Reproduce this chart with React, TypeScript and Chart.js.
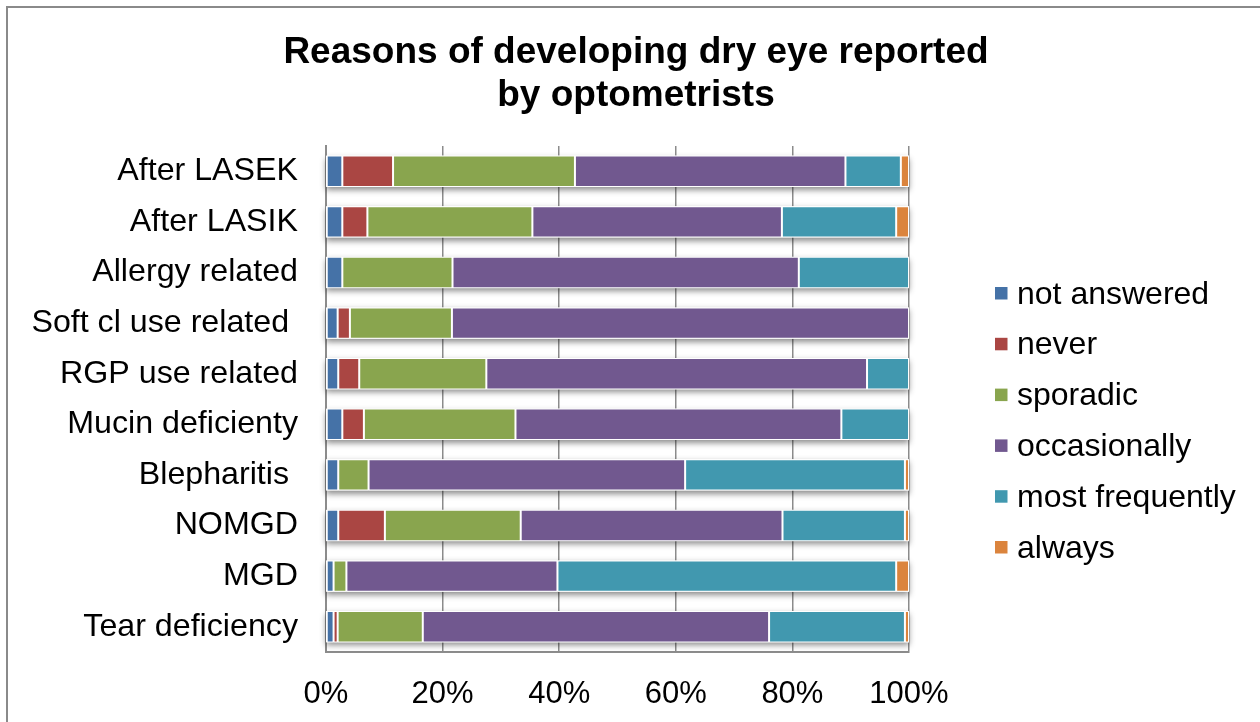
import React, { useEffect, useRef } from 'react';
import { Chart, registerables } from 'chart.js';

Chart.register(...registerables);

// Reasons, listed top to bottom
const categories = [
  'After LASEK',
  'After LASIK',
  'Allergy related',
  'Soft cl use related ',
  'RGP use related',
  'Mucin deficienty',
  'Blepharitis ',
  'NOMGD',
  'MGD',
  'Tear deficiency',
];

// Share of answers (%) per reason
const notAnswered = [2.8, 2.8, 2.8, 2.0, 2.1, 2.8, 2.1, 2.1, 1.3, 1.3];
const never = [8.7, 4.3, 0, 2.1, 3.6, 3.7, 0, 8.0, 0, 0.7];
const sporadic = [31.2, 28.3, 18.9, 17.5, 21.8, 26.0, 5.2, 23.3, 2.2, 14.6];
const occasionally = [46.4, 42.8, 59.4, 78.4, 65.3, 55.9, 54.3, 44.9, 36.2, 59.4];
const mostFrequently = [9.5, 19.6, 18.9, 0, 7.2, 11.6, 37.7, 21.0, 58.1, 23.3];
const always = [1.4, 2.2, 0, 0, 0, 0, 0.7, 0.7, 2.2, 0.7];

const seriesNames = ['not answered', 'never', 'sporadic', 'occasionally', 'most frequently', 'always'];
const seriesValues = [notAnswered, never, sporadic, occasionally, mostFrequently, always];
const seriesColors = ['#4572A7', '#AA4643', '#89A54E', '#71588F', '#4198AF', '#DB843D'];

const xTickLabels = ['0%', '20%', '40%', '60%', '80%', '100%'];
const titleLines = ['Reasons of developing dry eye reported', 'by optometrists'];

const FONT = "'Liberation Sans', Arial, Helvetica, sans-serif";

// Thin grey frame around the whole figure
const framePlugin = {
  id: 'frame',
  beforeDraw(chart: any) {
    const { ctx } = chart;
    ctx.save();
    ctx.strokeStyle = '#8a8a8a';
    ctx.lineWidth = 2;
    ctx.strokeRect(7, 7, chart.width + 20, chart.height + 20);
    ctx.restore();
  },
};

// Soft drop shadow under every stacked bar row
const barShadowPlugin = {
  id: 'barShadow',
  beforeDatasetsDraw(chart: any) {
    const { ctx } = chart;
    const xScale = chart.scales.x;
    const meta = chart.getDatasetMeta(0);
    ctx.save();
    meta.data.forEach((bar: any, i: number) => {
      const total = chart.data.datasets.reduce((s: number, d: any) => s + (d.data[i] || 0), 0);
      const left = xScale.getPixelForValue(0);
      const right = xScale.getPixelForValue(total);
      const h = bar.height;
      ctx.shadowColor = 'rgba(0,0,0,0.45)';
      ctx.shadowBlur = 6;
      ctx.shadowOffsetY = 3;
      ctx.fillStyle = '#ffffff';
      ctx.fillRect(left, bar.y - h / 2, right - left, h);
    });
    ctx.restore();
  },
};

// Legend column on the right, built from the datasets
const sideLegendPlugin = {
  id: 'sideLegend',
  afterDraw(chart: any, _args: any, opts: any) {
    const { ctx } = chart;
    ctx.save();
    ctx.font = `${opts.fontSize}px ${FONT}`;
    ctx.textBaseline = 'alphabetic';
    ctx.textAlign = 'left';
    chart.data.datasets.forEach((ds: any, i: number) => {
      const base = opts.firstBaseline + i * opts.step;
      ctx.fillStyle = ds.backgroundColor;
      ctx.fillRect(opts.boxX, base - opts.boxRaise - opts.boxSize, opts.boxSize, opts.boxSize);
      ctx.fillStyle = '#000';
      ctx.fillText(ds.label, opts.textX, base);
    });
    ctx.restore();
  },
};

export default function App() {
  const canvasRef = useRef<HTMLCanvasElement | null>(null);

  useEffect(() => {
    if (!canvasRef.current) return;
    const chart = new Chart(canvasRef.current, {
      type: 'bar',
      data: {
        labels: categories,
        datasets: seriesNames.map((name, i) => ({
          label: name,
          data: seriesValues[i],
          backgroundColor: seriesColors[i],
          borderColor: '#ffffff',
          borderWidth: 1,
          borderSkipped: false,
          barPercentage: 0.62,
          categoryPercentage: 1,
        })),
      },
      options: {
        indexAxis: 'y',
        animation: false,
        responsive: true,
        maintainAspectRatio: false,
        layout: { padding: { left: 12, right: 0, top: 0, bottom: 0 } },
        scales: {
          x: {
            stacked: true,
            min: 0,
            max: 100,
            ticks: {
              stepSize: 20,
              padding: 24,
              color: '#000',
              font: { family: FONT, size: 31 },
              callback: (v: any) => xTickLabels[Math.round(Number(v) / 20)],
            },
            grid: { color: '#8c8c8c', lineWidth: 1.5, drawTicks: false },
            border: { color: '#8c8c8c', width: 2 },
            afterFit: (s: any) => {
              s.height = 70;
            },
          },
          y: {
            stacked: true,
            ticks: {
              padding: 28,
              color: '#000',
              font: { family: FONT, size: 32.2 },
              autoSkip: false,
            },
            grid: { display: false, drawTicks: false },
            border: { color: '#8c8c8c', width: 2 },
            afterFit: (s: any) => {
              s.width = 314;
            },
          },
          legendSpace: {
            type: 'linear',
            axis: 'y',
            position: 'right',
            display: true,
            grid: { display: false, drawTicks: false },
            border: { display: false },
            ticks: { display: false },
            afterFit: (s: any) => {
              s.width = 351;
            },
          },
        },
        plugins: {
          legend: { display: false },
          tooltip: { enabled: false },
          title: {
            display: true,
            text: titleLines,
            color: '#000',
            font: { family: FONT, size: 37, weight: 'bold', lineHeight: 1.17 },
            padding: { top: 31, bottom: 28.4 },
          },
          sideLegend: {
            fontSize: 32,
            boxX: 995,
            boxSize: 12.5,
            boxRaise: 4,
            textX: 1017,
            firstBaseline: 303.5,
            step: 50.8,
          },
        } as any,
      },
      plugins: [framePlugin, barShadowPlugin, sideLegendPlugin],
    } as any);
    return () => chart.destroy();
  }, []);

  return (
    <div style={{ position: 'fixed', left: 0, top: 0, width: 1260, height: 722, background: '#fff' }}>
      <canvas ref={canvasRef} />
    </div>
  );
}
